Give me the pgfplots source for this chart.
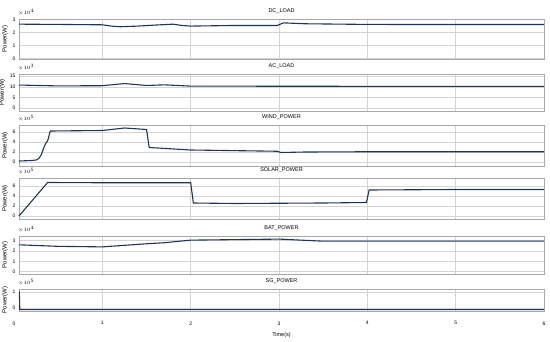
\documentclass[border=0pt]{standalone}
\usepackage{fontspec}
\setmainfont{Liberation Sans}
\usepackage{pgfplots}
\pgfplotsset{compat=1.18}
\definecolor{ln}{HTML}{1F3558}
\definecolor{gr}{HTML}{D4D4D4}
\definecolor{fr}{HTML}{A8A8A8}
\pgfplotsset{
  panel/.style={
    scale only axis, width=525pt, xmin=0.056, xmax=6,
    anchor=south west, clip=false,
    axis line style={fr, line width=0.6pt},
    grid=major, major grid style={gr, line width=0.5pt},
    xtick={1,2,3,4,5,6}, xticklabels={},
    major tick length=0pt,
    tick label style={font=\fontsize{5}{6}\selectfont},
    /pgf/number format/assume math mode=true,
    ylabel={Power(W)},
    ylabel style={font=\fontsize{6}{7}\selectfont, yshift=-2pt},
    title style={font=\fontsize{5.5}{6}\selectfont, yshift=-4pt},
    scaled y ticks=false,
    cycle list={{ln, mark=none}},
    every axis plot/.append style={line width=1.1pt},
  },
}
\newcommand{\expo}[1]{\node[anchor=south west, font=\fontsize{5.5}{6}\selectfont, inner sep=0pt] at (rel axis cs:0,1) [xshift=-1pt, yshift=3pt] {$\times10^{\scriptscriptstyle #1}$};}
\begin{document}
\begin{tikzpicture}
\useasboundingbox (0,0) rectangle (550pt,341pt);
% DC_LOAD
\begin{axis}[panel, at={(19pt,282pt)}, height=40pt, ymin=-0.05, ymax=3.05, ytick={0,1,2,3}, title={DC\_LOAD}]
\addplot coordinates {(0.056,2.65) (0.5,2.63) (1.0,2.6) (1.1,2.5) (1.2,2.45) (1.4,2.5) (1.6,2.58) (1.8,2.65) (1.9,2.55) (2.0,2.5) (2.5,2.55) (2.98,2.55) (3.05,2.75) (3.3,2.68) (4,2.63) (5,2.62) (6,2.62)};
\expo{4}
\end{axis}
% AC_LOAD
\begin{axis}[panel, at={(19pt,230pt)}, height=37pt, ymin=-1.4, ymax=16, ytick={0,5,10,15}, title={AC\_LOAD}]
\addplot coordinates {(0.056,10.8) (0.5,10.4) (1.0,10.5) (1.25,11.5) (1.5,10.6) (1.7,10.9) (2.0,10.3) (3,10.25) (4,10.2) (5,10.2) (6,10.2)};
\expo{3}
\end{axis}
% WIND_POWER
\begin{axis}[panel, at={(19pt,175pt)}, height=41pt, ymin=-0.8, ymax=7.4, ytick={0,2,4,6}, title={WIND\_POWER}]
\addplot coordinates {(0.056,0.2) (0.2,0.3) (0.25,0.4) (0.28,0.7) (0.31,1.5) (0.34,3.0) (0.36,3.8) (0.38,4.2) (0.41,6.2) (1.0,6.3) (1.25,6.8) (1.5,6.5) (1.53,2.9) (2.0,2.4) (2.98,2.15) (3.02,1.9) (3.3,2.0) (4,2.05) (5,2.05) (6,2.05)};
\expo{5}
\end{axis}
% SOLAR_POWER
\begin{axis}[panel, at={(19pt,122pt)}, height=41pt, ymin=-0.6, ymax=7.6, ytick={0,2,4,6}, title={SOLAR\_POWER}]
\addplot coordinates {(0.056,0) (0.38,6.7) (1.0,6.65) (2.0,6.65) (2.03,2.6) (2.5,2.5) (3.0,2.55) (3.5,2.6) (3.99,2.7) (4.02,5.2) (5,5.3) (6,5.3)};
\expo{5}
\end{axis}
% BAT_POWER
\begin{axis}[panel, at={(19pt,67pt)}, height=38pt, ymin=-0.22, ymax=3.45, ytick={0,1,2,3}, title={BAT\_POWER}]
\addplot coordinates {(0.056,2.6) (0.5,2.45) (1.0,2.4) (1.5,2.7) (1.7,2.8) (2.0,3.05) (3.0,3.15) (3.5,2.95) (4,2.95) (5,2.95) (6,2.95)};
\expo{4}
\end{axis}
% SG_POWER
\begin{axis}[panel, at={(19pt,30pt)}, height=22pt, ymin=-0.19, ymax=1.19, ytick={0,1}, title={SG\_POWER},
  xticklabels={1,2,3,4,5,6}, xticklabel style={yshift=-7pt},
  xlabel={Time(s)}, xlabel style={font=\fontsize{5.5}{6}\selectfont, yshift=-1pt}]
\addplot coordinates {(0.056,1.0) (0.06,1.0) (0.065,-0.1) (1,-0.1) (3,-0.1) (6,-0.1)};
\expo{5}
\node[font=\fontsize{5}{6}\selectfont, anchor=north, yshift=-7pt, inner sep=0.333em] at (axis cs:0,-0.19) {0};
\end{axis}
\end{tikzpicture}
\end{document}
